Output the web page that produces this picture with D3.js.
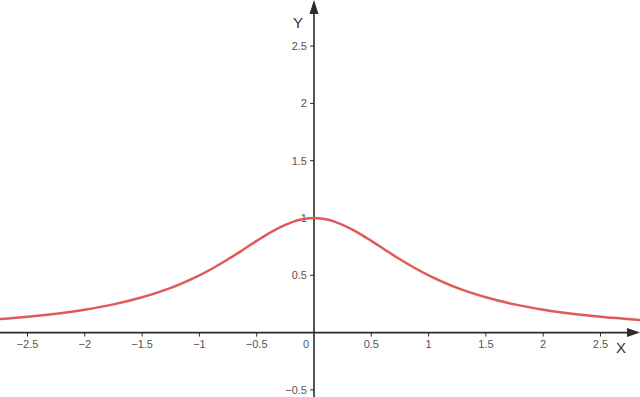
<!DOCTYPE html>
<html>
<head>
<meta charset="utf-8">
<script src="https://cdn.jsdelivr.net/npm/d3@7"></script>
<style>
  html, body { margin: 0; padding: 0; background: #fff; }
  svg { display: block; font-family: "Liberation Sans", Arial, sans-serif; }
</style>
</head>
<body>
<div id="chart"></div>
<script>
const width = 640;
const height = 397;

// points
const xs = [-2.8, -2.5, -2.25, -2, -1.75, -1.5, -1.25, -1, -0.875, -0.75, -0.625, -0.5, -0.375, -0.25, -0.125, 0,
            0.125, 0.25, 0.375, 0.5, 0.625, 0.75, 0.875, 1, 1.25, 1.5, 1.75, 2, 2.25, 2.5, 2.9];
const ys = [0.113, 0.138, 0.165, 0.2, 0.246, 0.308, 0.39, 0.5, 0.566, 0.64, 0.719, 0.8, 0.877, 0.94, 0.985, 1,
            0.985, 0.94, 0.877, 0.8, 0.719, 0.64, 0.566, 0.5, 0.39, 0.308, 0.246, 0.2, 0.165, 0.138, 0.106];

const xTicks = [-2.5, -2, -1.5, -1, -0.5, 0.5, 1, 1.5, 2, 2.5];
const yTicks = [-0.5, 0.5, 1, 1.5, 2, 2.5];

const x = d3.scaleLinear().domain([-2.74, 2.845]).range([0, width]);
const y = d3.scaleLinear().domain([-0.562, 2.902]).range([height, 0]);

const svg = d3.select('#chart')
  .append('svg')
  .attr('width', width)
  .attr('height', height);

const axisColor = '#2b2b2b';
const textColor = '#555';
const x0 = x(0), y0 = y(0);

// x axis
svg.append('line')
  .attr('x1', 0).attr('x2', width - 10)
  .attr('y1', y0).attr('y2', y0)
  .attr('stroke', axisColor).attr('stroke-width', 1.6);
svg.append('path')
  .attr('d', `M${width},${y0} L${width - 13},${y0 - 4.5} L${width - 13},${y0 + 4.5} Z`)
  .attr('fill', axisColor);

// y axis
svg.append('line')
  .attr('x1', x0).attr('x2', x0)
  .attr('y1', 10).attr('y2', height)
  .attr('stroke', axisColor).attr('stroke-width', 1.6);
svg.append('path')
  .attr('d', `M${x0},0 L${x0 - 4.5},14 L${x0 + 4.5},14 Z`)
  .attr('fill', axisColor);

// x ticks + labels
const xt = svg.append('g').selectAll('g').data(xTicks).enter().append('g')
  .attr('transform', d => `translate(${x(d)},${y0})`);
xt.append('line').attr('y1', 0).attr('y2', 4)
  .attr('stroke', axisColor).attr('stroke-width', 1);
xt.append('text')
  .attr('y', 15)
  .attr('text-anchor', 'middle')
  .attr('font-size', 11)
  .attr('fill', textColor)
  .text(d => d3.format('')(d));

// y ticks + labels
const yt = svg.append('g').selectAll('g').data(yTicks).enter().append('g')
  .attr('transform', d => `translate(${x0},${y(d)})`);
yt.append('line').attr('x1', 0).attr('x2', -4)
  .attr('stroke', axisColor).attr('stroke-width', 1);
yt.append('text')
  .attr('x', -7)
  .attr('dy', '0.35em')
  .attr('text-anchor', 'end')
  .attr('font-size', 11)
  .attr('fill', textColor)
  .text(d => d3.format('')(d));

// origin
svg.append('text')
  .attr('x', x0 - 8).attr('y', y0 + 15)
  .attr('text-anchor', 'middle')
  .attr('font-size', 11)
  .attr('fill', textColor)
  .text('0');

// axis names
svg.append('text')
  .attr('x', x0 - 16).attr('y', 28)
  .attr('text-anchor', 'middle')
  .attr('font-size', 15)
  .attr('fill', '#333')
  .text('Y');
svg.append('text')
  .attr('x', 621).attr('y', y0 + 20)
  .attr('text-anchor', 'middle')
  .attr('font-size', 15)
  .attr('fill', '#333')
  .text('X');

// curve
const line = d3.line()
  .x((d, i) => x(xs[i]))
  .y(d => y(d))
  .curve(d3.curveCatmullRom);

svg.append('path')
  .datum(ys)
  .attr('d', line)
  .attr('fill', 'none')
  .attr('stroke', '#e05a5a')
  .attr('stroke-width', 2.5)
  .attr('stroke-linejoin', 'round');
</script>
</body>
</html>
